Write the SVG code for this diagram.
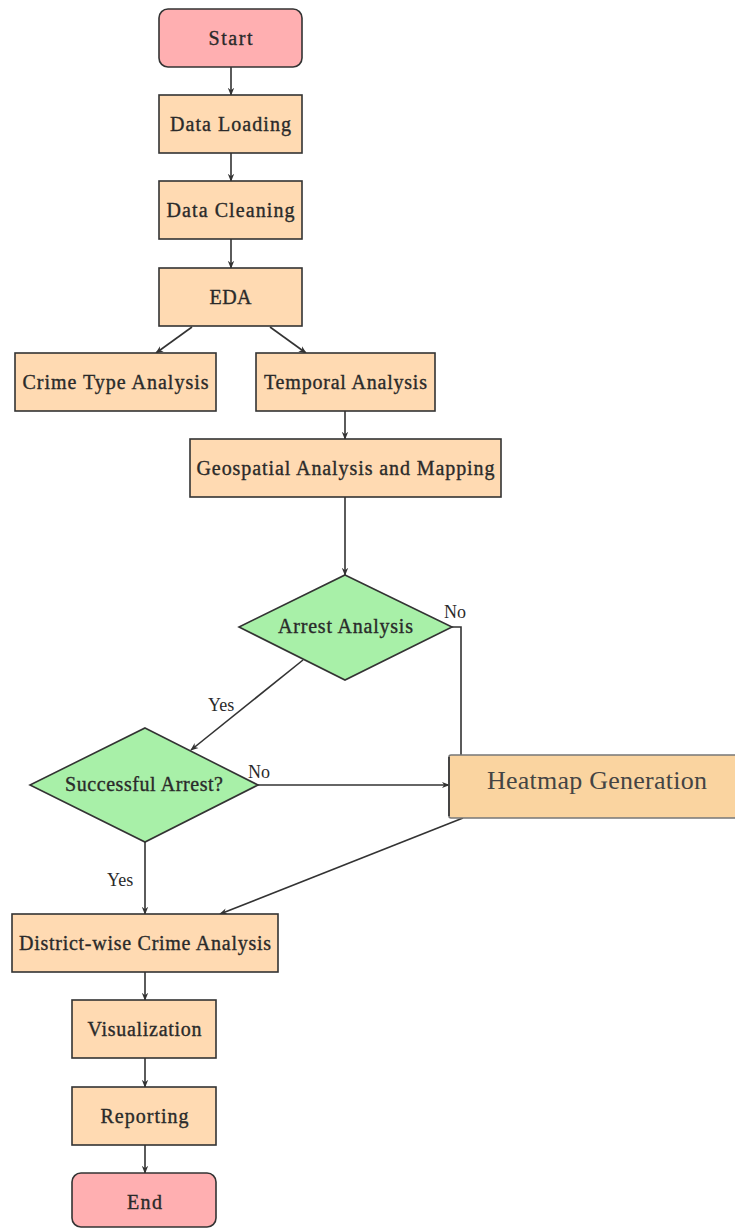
<svg xmlns="http://www.w3.org/2000/svg" width="735" height="1228" viewBox="0 0 735 1228">
<style>
.box{fill:#FFDAB2;stroke:#333;stroke-width:1.6}
.term{fill:#FFAFB1;stroke:#333;stroke-width:1.6}
.dia{fill:#A8F0A8;stroke:#333;stroke-width:1.6}
.hm{fill:#FAD4A0;stroke:#777;stroke-width:1.6}
text{font-family:"Liberation Serif","DejaVu Serif",serif;font-size:20px;fill:#2a2a2a;text-anchor:middle;stroke:#2a2a2a;stroke-width:0.35}
.lbl{font-size:18px;text-anchor:start;stroke:none}
.hmt{font-size:26px;fill:#444;stroke:none}
.c{fill:none;stroke:#333;stroke-width:1.6}
</style>
<defs>
<marker id="ah" viewBox="0 0 10 10" refX="9" refY="5" markerWidth="8" markerHeight="8" orient="auto" markerUnits="userSpaceOnUse">
<path d="M0,1 L10,5 L0,9 L3,5 Z" fill="#333"/>
</marker>
</defs>
<g id="connectors">
<line class="c" x1="231" y1="67" x2="231" y2="95" marker-end="url(#ah)"/>
<line class="c" x1="231" y1="153" x2="231" y2="181" marker-end="url(#ah)"/>
<line class="c" x1="231" y1="239" x2="231" y2="268" marker-end="url(#ah)"/>
<line class="c" x1="192" y1="327" x2="156" y2="353" marker-end="url(#ah)"/>
<line class="c" x1="270" y1="327" x2="306" y2="353" marker-end="url(#ah)"/>
<line class="c" x1="345" y1="411" x2="345" y2="439" marker-end="url(#ah)"/>
<line class="c" x1="345" y1="497" x2="345" y2="575" marker-end="url(#ah)"/>
<polyline class="c" points="452,627 461,627 461,755"/>
<line class="c" x1="303" y1="660" x2="191" y2="750" marker-end="url(#ah)"/>
<line class="c" x1="258" y1="785" x2="449" y2="785" marker-end="url(#ah)"/>
<line class="c" x1="145" y1="842" x2="145" y2="914" marker-end="url(#ah)"/>
<line class="c" x1="463" y1="818" x2="220" y2="914" marker-end="url(#ah)"/>
<line class="c" x1="145" y1="972" x2="145" y2="1000" marker-end="url(#ah)"/>
<line class="c" x1="145" y1="1058" x2="145" y2="1087" marker-end="url(#ah)"/>
<line class="c" x1="145" y1="1145" x2="145" y2="1173" marker-end="url(#ah)"/>
<text class="lbl" x="444" y="618">No</text>
<text class="lbl" x="208" y="711">Yes</text>
<text class="lbl" x="248" y="778">No</text>
<text class="lbl" x="107" y="886">Yes</text>
</g>
<g id="start"><rect class="term" x="159" y="9" width="143" height="58" rx="9"/><text x="230.5" y="45" textLength="44">Start</text></g>
<g id="loading"><rect class="box" x="159" y="95" width="143" height="58"/><text x="230.5" y="131" textLength="121">Data Loading</text></g>
<g id="cleaning"><rect class="box" x="159" y="181" width="143" height="58"/><text x="230.5" y="217" textLength="128">Data Cleaning</text></g>
<g id="eda"><rect class="box" x="159" y="268" width="143" height="58"/><text x="230.5" y="304" textLength="42">EDA</text></g>
<g id="crimetype"><rect class="box" x="15" y="353" width="201" height="58"/><text x="115.5" y="389" textLength="186">Crime Type Analysis</text></g>
<g id="temporal"><rect class="box" x="256" y="353" width="179" height="58"/><text x="345.5" y="389" textLength="163">Temporal Analysis</text></g>
<g id="geospatial"><rect class="box" x="190" y="439" width="311" height="58"/><text x="345.5" y="475" textLength="298">Geospatial Analysis and Mapping</text></g>
<g id="arrest"><polygon class="dia" points="345,575 452,627 345,680 239,627"/><text x="345.5" y="633" textLength="135">Arrest Analysis</text></g>
<g id="successful"><polygon class="dia" points="145,728 258,785 145,842 30,785"/><text x="144" y="791" textLength="158">Successful Arrest?</text></g>
<g id="heatmap"><rect class="hm" x="449" y="755" width="300" height="63" rx="2"/><line x1="449" y1="757" x2="449" y2="816" stroke="#333" stroke-width="1.6"/><text class="hmt" x="597" y="789" textLength="220">Heatmap Generation</text></g>
<g id="district"><rect class="box" x="12" y="914" width="266" height="58"/><text x="145" y="950" textLength="252">District-wise Crime Analysis</text></g>
<g id="visualization"><rect class="box" x="72" y="1000" width="144" height="58"/><text x="144.5" y="1036" textLength="114">Visualization</text></g>
<g id="reporting"><rect class="box" x="72" y="1087" width="144" height="58"/><text x="144.5" y="1123" textLength="88">Reporting</text></g>
<g id="end"><rect class="term" x="72" y="1173" width="144" height="54" rx="9"/><text x="144.5" y="1209" textLength="35">End</text></g>
</svg>
